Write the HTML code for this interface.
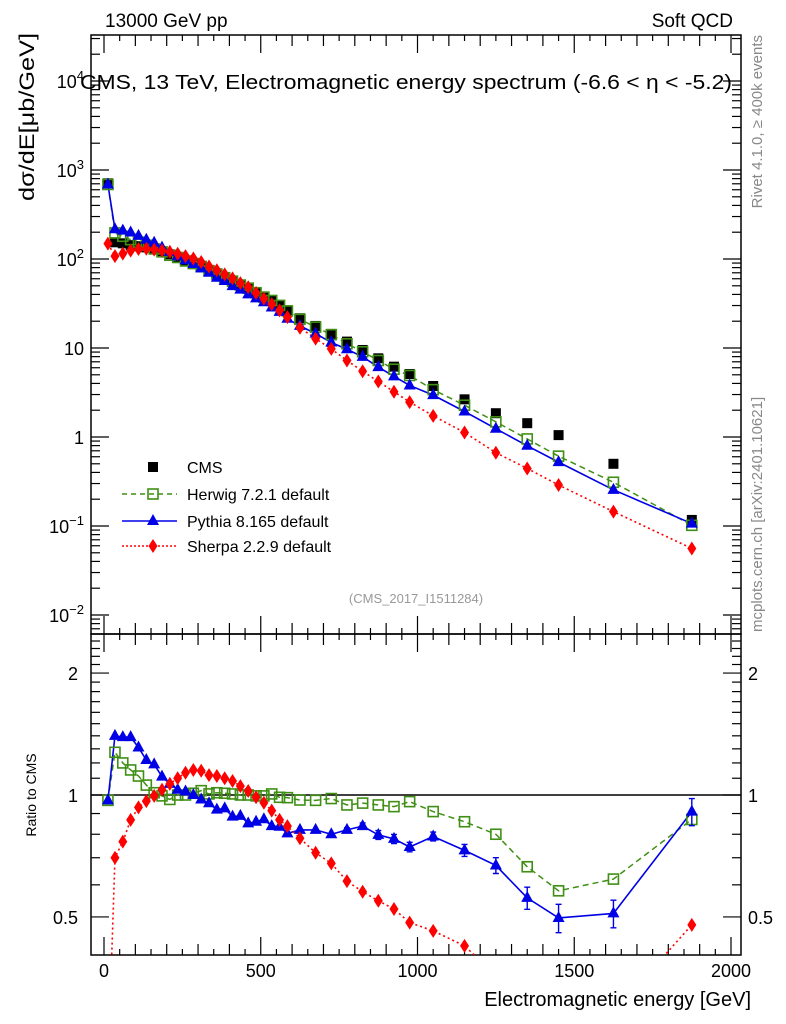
<!DOCTYPE html>
<html><head><meta charset="utf-8">
<style>
html,body{margin:0;padding:0;background:#fff;overflow:hidden;width:786px;height:1024px;}
svg{display:block;font-family:"Liberation Sans",Arial,sans-serif;}
</style></head>
<body>
<svg id="chart" width="786" height="1024" viewBox="0 0 786 1024" xmlns="http://www.w3.org/2000/svg">
  <defs>
    <clipPath id="clipTop"><rect x="91" y="35" width="650" height="599"/></clipPath>
    <clipPath id="clipBot"><rect x="91" y="634" width="650" height="321"/></clipPath>
  </defs>
  <text x="105" y="27" font-size="19">13000 GeV pp</text>
  <text x="733" y="27" font-size="19" text-anchor="end">Soft QCD</text>
  <g id="axes"></g>
  <text x="80" y="89" font-size="20.5" textLength="652" lengthAdjust="spacingAndGlyphs">CMS, 13 TeV, Electromagnetic energy spectrum (-6.6 &lt; η &lt; -5.2)</text>
  <text transform="translate(34,33) rotate(-90)" font-size="21" text-anchor="end" textLength="168" lengthAdjust="spacingAndGlyphs">dσ/dE[μb/GeV]</text>
  <text transform="translate(36,795) rotate(-90)" font-size="14" text-anchor="middle">Ratio to CMS</text>
  <text x="751" y="1006" font-size="20" text-anchor="end">Electromagnetic energy [GeV]</text>
  <text transform="translate(762,35) rotate(-90)" font-size="15" fill="#888" text-anchor="end">Rivet 4.1.0, ≥ 400k events</text>
  <text transform="translate(762,632) rotate(-90)" font-size="15" fill="#888" text-anchor="start">mcplots.cern.ch [arXiv:2401.10621]</text>
  <text x="416" y="603" font-size="13" fill="#999" text-anchor="middle">(CMS_2017_I1511284)</text>
  <g id="topMarks" clip-path="url(#clipTop)"></g>
  <g id="botMarks" clip-path="url(#clipBot)"></g>
  <g id="legend"></g>
</svg>
<script>
const energies = [12.5,35,60,85,110,135,160,185,210,235,260,285,310,335,360,385,410,435,460,485,510,535,560,585,625,675,725,775,825,875,925,975,1050,1150,1250,1350,1450,1625,1875];
const cmsValues = [709,154,150,143,139,135,128,121,113,104,95,88,80.5,73.5,67,61,56,51,47,42,37.5,34,30.5,26.5,21.6,17.7,14.4,11.8,9.5,7.66,6.17,5.1,3.74,2.65,1.85,1.43,1.05,0.50,0.117];
const herwigRatio = [0.97,1.275,1.20,1.153,1.114,1.058,1.013,0.995,0.975,1.0,1.0,1.01,1.025,1.006,1.013,1.01,1.006,1.0,1.0,0.995,0.995,1.006,0.987,0.985,0.972,0.97,0.98,0.945,0.955,0.945,0.936,0.963,0.91,0.859,0.80,0.665,0.58,0.62,0.87];
const pythiaRatio = [0.97,1.40,1.39,1.39,1.31,1.22,1.19,1.11,1.065,1.03,1.02,1.0,0.975,0.954,0.92,0.927,0.884,0.888,0.851,0.859,0.871,0.838,0.835,0.804,0.82,0.82,0.80,0.82,0.838,0.797,0.779,0.744,0.79,0.73,0.67,0.557,0.497,0.51,0.91];
const pythiaErr = [0,0,0,0,0,0,0,0,0,0,0,0,0,0,0,0,0,0,0,0,0,0,0,0,0,0,0,0.01,0.015,0.02,0.02,0.02,0.02,0.025,0.03,0.035,0.04,0.04,0.07];
const sherpaRatio = [0.21,0.70,0.767,0.868,0.932,0.966,0.995,1.03,1.065,1.10,1.135,1.153,1.148,1.12,1.114,1.10,1.083,1.052,1.023,0.987,0.957,0.915,0.868,0.838,0.782,0.72,0.678,0.613,0.577,0.548,0.523,0.484,0.462,0.424,0.36,0.31,0.275,0.29,0.478];
const xTickLabels = ["0","500","1000","1500","2000"];
const yTopDecades = [-2,-1,0,1,2,3,4];
const yTopBase = ["10","10","1","10","10","10","10"];
const yTopExp = ["−2","−1","","","2","3","4"];
const ratioTickValues = [0.5,1,2];
const ratioTickLabels = ["0.5","1","2"];

const NS="http://www.w3.org/2000/svg";
const L=91,R=741,T=35,MID=634,B=955;
const xScale = e => 104 + e*0.3135;
const yTop = v => 437 - 89*Math.log10(v);
const yBot = r => 795 - 405*Math.log10(r);
function mk(tag, attrs, parent){const el=document.createElementNS(NS,tag);for(const k in attrs)el.setAttribute(k,attrs[k]);parent.appendChild(el);return el;}
const axes=document.getElementById('axes');
const topG=document.getElementById('topMarks');
const botG=document.getElementById('botMarks');
const leg=document.getElementById('legend');

let f1=mk('rect',{x:L,y:T,width:R-L,height:MID-T,fill:'none',stroke:'#000','stroke-width':1.5},axes);


let f2=mk('rect',{x:L,y:MID,width:R-L,height:B-MID,fill:'none',stroke:'#000','stroke-width':1.5},axes);



for(let e=0;e<=2000;e+=50){
  const x=xScale(e); const maj=(e%500===0)?18:(e%100===0?11:6);
  for(const [y0,dir] of [[MID,-1],[T,1],[B,-1],[MID,1]]){
    mk('line',{x1:x,x2:x,y1:y0,y2:y0+dir*maj,stroke:'#000','stroke-width':1.2},axes);
  }
}
xTickLabels.forEach((lab,i)=>{
  const t=mk('text',{x:xScale(i*500),y:977,'font-size':18,'text-anchor':'middle'},axes);
  t.textContent=lab;
  
  
});
for(let d=-3;d<=4;d++){
  for(let m=1;m<=9;m++){
    const v=m*Math.pow(10,d); const y=yTop(v);
    if(y<T||y>MID)continue;
    const len=m===1?18:9;
    mk('line',{x1:L,x2:L+len,y1:y,y2:y,stroke:'#000','stroke-width':1.2},axes);
    mk('line',{x1:R,x2:R-len,y1:y,y2:y,stroke:'#000','stroke-width':1.2},axes);
  }
}
yTopDecades.forEach((d,i)=>{
  const y=yTop(Math.pow(10,d))+7;
  const t=mk('text',{x:84,y:y,'font-size':18,'text-anchor':'end'},axes);
  
  
  const b=mk('tspan',{},t); b.textContent=yTopBase[i];
  if(yTopExp[i]){
    const s=mk('tspan',{dy:-8,'font-size':13},t); s.textContent=yTopExp[i];
  }
});
for(let v=0.4;v<=2.5;v+=0.1){
  const vv=Math.round(v*10)/10; const y=yBot(vv);
  if(y<MID||y>B)continue;
  const len=(vv===0.5||vv===1||vv===2)?18:9;
  mk('line',{x1:L,x2:L+len,y1:y,y2:y,stroke:'#000','stroke-width':1.2},axes);
  mk('line',{x1:R,x2:R-len,y1:y,y2:y,stroke:'#000','stroke-width':1.2},axes);
}
ratioTickValues.forEach((v,i)=>{
  const y=yBot(v)+7;
  let t=mk('text',{x:78,y:y,'font-size':18,'text-anchor':'end'},axes);
  t.textContent=ratioTickLabels[i];
  
  
  t=mk('text',{x:748,y:y,'font-size':18,'text-anchor':'start'},axes);
  t.textContent=ratioTickLabels[i];
  
  
});
let one=mk('line',{x1:L,x2:R,y1:yBot(1),y2:yBot(1),stroke:'#000','stroke-width':1.5},botG);



function marker(g,type,x,y,color){
  let el;
  if(type==='sq') el=mk('rect',{x:x-5,y:y-5,width:10,height:10,fill:'#000'},g);
  else if(type==='osq') el=mk('rect',{x:x-5,y:y-5,width:10,height:10,fill:'none',stroke:color,'stroke-width':1.6},g);
  else if(type==='tri') el=mk('polygon',{points:`${x},${y-7} ${x-6},${y+4} ${x+6},${y+4}`,fill:color},g);
  else el=mk('polygon',{points:`${x},${y-7} ${x-4.5},${y} ${x},${y+7} ${x+4.5},${y}`,fill:color},g);
  return el;
}
const series=[
  {name:'herwig',ratio:herwigRatio,color:'#3f8f14',type:'osq',dash:'6,4',w:1.5},
  {name:'pythia',ratio:pythiaRatio,color:'#0000e6',type:'tri',dash:'',w:1.6},
  {name:'sherpa',ratio:sherpaRatio,color:'#ff0000',type:'dia',dash:'2,3',w:1.6}
];
series.forEach(s=>{
  const ptsT=energies.map((e,i)=>`${xScale(e)},${yTop(cmsValues[i]*s.ratio[i])}`).join(' ');
  const lt=mk('polyline',{points:ptsT,fill:'none',stroke:s.color,'stroke-width':s.w,'stroke-dasharray':s.dash},topG);
  
  
  const ptsB=energies.map((e,i)=>`${xScale(e)},${yBot(s.ratio[i])}`).join(' ');
  const lb=mk('polyline',{points:ptsB,fill:'none',stroke:s.color,'stroke-width':s.w,'stroke-dasharray':s.dash},botG);
  
  
});
energies.forEach((e,i)=>{
  const m=marker(topG,'sq',xScale(e),yTop(cmsValues[i]),'#000');
  
  
});
series.forEach(s=>{
  energies.forEach((e,i)=>{
    const x=xScale(e);
    const m=marker(topG,s.type,x,yTop(cmsValues[i]*s.ratio[i]),s.color);
    
    
    if(s.name==='pythia' && pythiaErr[i]>0){
      const y1=yBot(s.ratio[i]+pythiaErr[i]),y2=yBot(s.ratio[i]-pythiaErr[i]);
      const eb=mk('path',{d:`M${x},${y1}V${y2}M${x-3},${y1}H${x+3}M${x-3},${y2}H${x+3}`,stroke:s.color,'stroke-width':1.4,fill:'none'},botG);
      
      
    }
    const mb=marker(botG,s.type,x,yBot(s.ratio[i]),s.color);
    
    
  });
});
const legendItems=[
  {label:'CMS',type:'sq',color:'#000',dash:null,y:467},
  {label:'Herwig 7.2.1 default',type:'osq',color:'#3f8f14',dash:'5,4',y:494},
  {label:'Pythia 8.165 default',type:'tri',color:'#0000e6',dash:'',y:521},
  {label:'Sherpa 2.2.9 default',type:'dia',color:'#ff0000',dash:'2,2',y:546}
];
legendItems.forEach(it=>{
  const g=mk('g',{},leg);
  
  
  if(it.dash!==null) mk('line',{x1:122,x2:177,y1:it.y,y2:it.y,stroke:it.color,'stroke-width':1.4,'stroke-dasharray':it.dash},g);
  marker(g,it.type,153,it.y,it.color);
  const t=mk('text',{x:187,y:it.y+6,'font-size':16},g);
  t.textContent=it.label;
});
</script>
</body></html>
